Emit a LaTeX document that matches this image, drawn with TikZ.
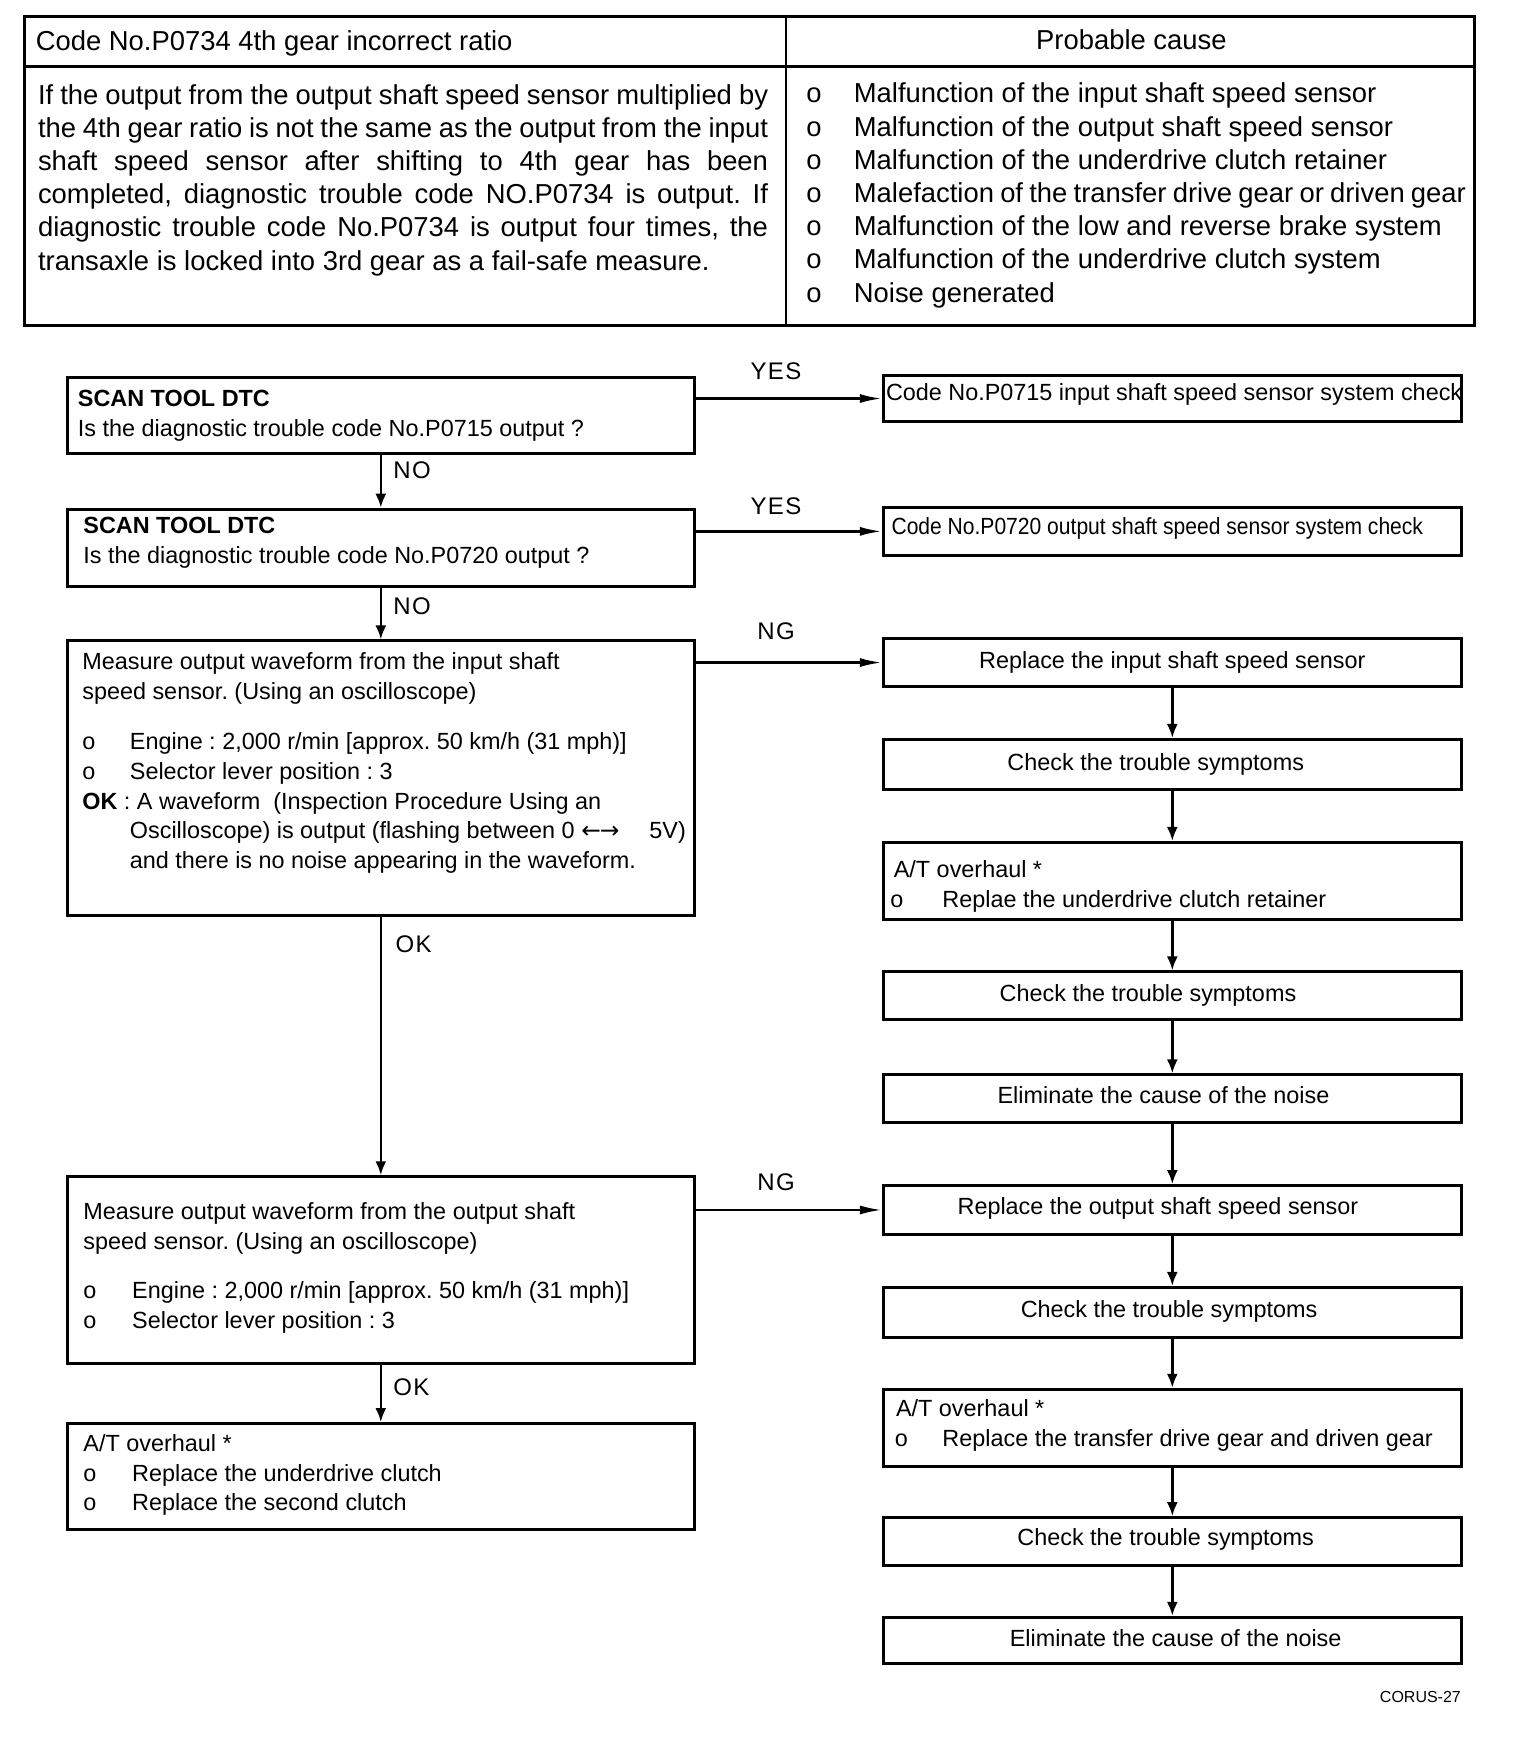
\documentclass[tikz,border=0pt]{standalone}
\usepackage{fontspec}
\setmainfont{Liberation Sans}
\newfontfamily\lblfam[LetterSpace=6]{Liberation Sans}
\newfontfamily\condfam[FakeStretch=0.9]{Liberation Sans}
\newfontfamily\dejavu{DejaVu Sans}
\newcommand\mytfont{\fontsize{13.7pt}{16.6pt}\selectfont}
\newcommand\myffont{\fontsize{11.7pt}{14.9pt}\selectfont}
\newcommand\mylfont{\lblfam\fontsize{12pt}{14pt}\selectfont}
\newcommand\tl[1]{\hbox{#1}}
\newcommand\bl[2]{\hbox{\makebox[#1][l]{o}#2}}
\usetikzlibrary{arrows.meta,fit}
\frenchspacing
\begin{document}
\begin{tikzpicture}[x=0.5535pt,y=-0.5535pt,
 box/.style={draw,line width=1.5pt,inner sep=0pt},
 tt/.style={inner sep=0pt,font=\mytfont},
 ft/.style={inner sep=0pt,font=\myffont},
 lbl/.style={inner sep=0pt,font=\mylfont,anchor=base west},
 varr/.style={line width=1.3pt,-{Latex[length=7pt,width=5.5pt]}},
 harr/.style={line width=1.2pt,-{Latex[length=11pt,width=4.5pt]}}]
\useasboundingbox (0,0) rectangle (1387.5,1570);
% ---- table ----
\draw[line width=1.7pt] (22,15) rectangle (1332,294);
\draw[line width=1.1pt] (22,60) -- (1332,60);
\draw[line width=1.1pt] (710,15) -- (710,294);
\node[tt,anchor=base west] (hdr) at (32,46) {Code No.P0734 4th gear incorrect ratio};
\node[tt,anchor=base] (pc) at (1022,45) {Probable cause};
\node[tt,anchor=base west] (desc) at (34,94) {\vtop{\baselineskip=16.6pt
 \tl{\makebox[365pt][s]{If the output from the output shaft speed sensor multiplied by}}
 \tl{\makebox[365pt][s]{the 4th gear ratio is not the same as the output from the input}}
 \tl{\makebox[365pt][s]{shaft speed sensor after shifting to 4th gear has been}}
 \tl{\makebox[365pt][s]{completed, diagnostic trouble code NO.P0734 is output. If}}
 \tl{\makebox[365pt][s]{diagnostic trouble code No.P0734 is output four times, the}}
 \tl{transaxle is locked into 3rd gear as a fail-safe measure.}}};
\node[tt,anchor=base west] (causes) at (728,93) {\vtop{\baselineskip=16.6pt
 \bl{23.8pt}{Malfunction of the input shaft speed sensor}
 \bl{23.8pt}{Malfunction of the output shaft speed sensor}
 \bl{23.8pt}{Malfunction of the underdrive clutch retainer}
 \bl{23.8pt}{\hbox to 306pt{Malefaction of the transfer drive gear or driven gear}}
 \bl{23.8pt}{Malfunction of the low and reverse brake system}
 \bl{23.8pt}{Malfunction of the underdrive clutch system}
 \bl{23.8pt}{Noise generated}}};
% ---- left boxes ----
\node[box,fit={(61,341)(627,410)}] (b1) {};
\node[box,fit={(61,460)(627,530)}] (b2) {};
\node[box,fit={(61,579)(627,827)}] (b3) {};
\node[box,fit={(61,1063)(627,1232)}] (b4) {};
\node[box,fit={(61,1286)(627,1382)}] (b5) {};
\node[ft,anchor=base west] (b1t) at (70,367) {\vtop{\baselineskip=14.9pt
 \tl{\bfseries SCAN TOOL DTC}\tl{Is the diagnostic trouble code No.P0715 output ?}}};
\node[ft,anchor=base west] (b2t) at (75,482) {\vtop{\baselineskip=14.9pt
 \tl{\bfseries SCAN TOOL DTC}\tl{Is the diagnostic trouble code No.P0720 output ?}}};
\node[ft,anchor=base west] (b3t) at (74,605) {\vtop{\baselineskip=14.9pt
 \tl{Measure output waveform from the input shaft}
 \tl{speed sensor. (Using an oscilloscope)}}};
\node[ft,anchor=base west] (b3u) at (74,677) {\vtop{\baselineskip=14.9pt
 \bl{23.8pt}{Engine : 2,000 r/min [approx. 50 km/h (31 mph)]}
 \bl{23.8pt}{Selector lever position : 3}
 \tl{\textbf{OK} : A waveform \ (Inspection Procedure Using an}
 \tl{\hspace{23.8pt}Oscilloscope) is output (flashing between 0 {\dejavu ←\kern-0.5pt→}\hspace{15pt}5V)}
 \tl{\hspace{23.8pt}and there is no noise appearing in the waveform.}}};
\node[ft,anchor=base west] (b4t) at (75,1102) {\vtop{\baselineskip=14.9pt
 \tl{Measure output waveform from the output shaft}
 \tl{speed sensor. (Using an oscilloscope)}}};
\node[ft,anchor=base west] (b4u) at (75,1173) {\vtop{\baselineskip=14.9pt
 \bl{24.4pt}{Engine : 2,000 r/min [approx. 50 km/h (31 mph)]}
 \bl{24.4pt}{Selector lever position : 3}}};
\node[ft,anchor=base west] (b5t) at (75,1311) {\vtop{\baselineskip=14.9pt
 \tl{A/T overhaul *}
 \bl{24.4pt}{Replace the underdrive clutch}
 \bl{24.4pt}{Replace the second clutch}}};
% ---- right boxes ----
\node[box,fit={(798,339)(1320,381)}] (r1) {};
\node[box,fit={(798,458)(1320,502)}] (r2) {};
\node[box,fit={(798,577)(1320,620)}] (r3) {};
\node[box,fit={(798,668)(1320,713)}] (r4) {};
\node[box,fit={(798,761)(1320,831)}] (r5) {};
\node[box,fit={(798,878)(1320,921)}] (r6) {};
\node[box,fit={(798,971)(1320,1014)}] (r7) {};
\node[box,fit={(798,1071)(1320,1115)}] (r8) {};
\node[box,fit={(798,1163)(1320,1208)}] (r9) {};
\node[box,fit={(798,1255)(1320,1325)}] (r10) {};
\node[box,fit={(798,1371)(1320,1414)}] (r11) {};
\node[box,fit={(798,1461)(1320,1503)}] (r12) {};
\node[ft,anchor=base west] (r1t) at (800,362) {Code No.P0715 input shaft speed sensor system check};
\node[ft,anchor=base west] (r2t) at (805,483) {\condfam Code No.P0720 output shaft speed sensor system check};
\node[ft,anchor=base] (r3t) at (1059,604) {Replace the input shaft speed sensor};
\node[ft,anchor=base] (r4t) at (1044,696) {Check the trouble symptoms};
\node[ft,anchor=base west] (r5t) at (804,793) {\vtop{\baselineskip=14.9pt
 \tl{\hspace{1.7pt}A/T overhaul *}
 \bl{26pt}{Replae the underdrive clutch retainer}}};
\node[ft,anchor=base] (r6t) at (1037,905) {Check the trouble symptoms};
\node[ft,anchor=base] (r7t) at (1051,997) {Eliminate the cause of the noise};
\node[ft,anchor=base] (r8t) at (1046,1097) {Replace the output shaft speed sensor};
\node[ft,anchor=base] (r9t) at (1056,1190) {Check the trouble symptoms};
\node[ft,anchor=base west] (r10t) at (808,1280) {\vtop{\baselineskip=14.9pt
 \tl{\hspace{0.6pt}A/T overhaul *}
 \bl{23.8pt}{Replace the transfer drive gear and driven gear}}};
\node[ft,anchor=base] (r11t) at (1053,1396) {Check the trouble symptoms};
\node[ft,anchor=base] (r12t) at (1062,1487) {Eliminate the cause of the noise};
% ---- connectors ----
\draw[varr] (b1.south) -- (b2.north);
\draw[varr] (b2.south) -- (b3.north);
\draw[varr] (b3.south) -- (b4.north);
\draw[varr] (b4.south) -- (b5.north);
\draw[harr] (b1.east |- r1.west) -- (r1.west);
\draw[harr] (b2.east |- r2.west) -- (r2.west);
\draw[harr] (b3.east |- r3.west) -- (r3.west);
\draw[harr] (b4.east |- r8.west) -- (r8.west);
\foreach \a/\b in {r3/r4,r4/r5,r5/r6,r6/r7,r7/r8,r8/r9,r9/r10,r10/r11,r11/r12}
  \draw[varr] (\a.south) -- (\b.north);
% ---- labels ----
\node[lbl] (no1) at (355,432) {NO};
\node[lbl] (no2) at (355,555) {NO};
\node[lbl] (ok1) at (357,860) {OK};
\node[lbl] (ok2) at (355,1261) {OK};
\node[lbl,anchor=base] (yes1) at (701,343) {YES};
\node[lbl,anchor=base] (yes2) at (701,465) {YES};
\node[lbl,anchor=base] (ng1) at (701,578) {NG};
\node[lbl,anchor=base] (ng2) at (701,1075) {NG};
\node[inner sep=0pt,anchor=base east,font=\fontsize{8pt}{9pt}\selectfont] (corus) at (1320,1538) {CORUS-27};
\end{tikzpicture}
\end{document}
